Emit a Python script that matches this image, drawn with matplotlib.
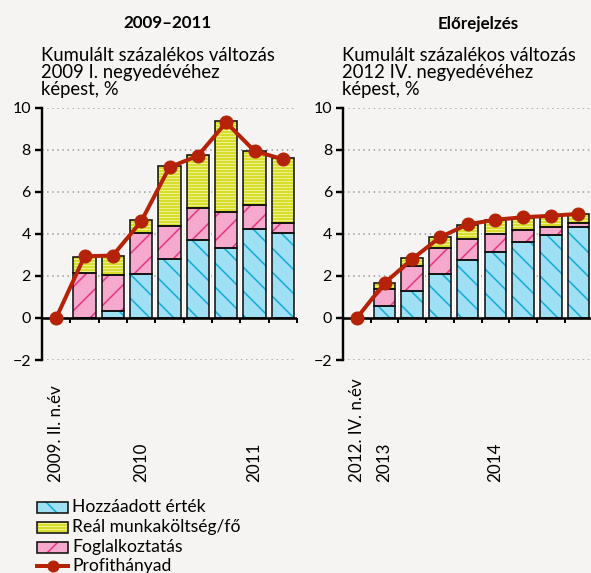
import matplotlib
matplotlib.use("Agg")
import matplotlib.pyplot as plt
import matplotlib.transforms as mtransforms
from matplotlib.patches import Rectangle
from matplotlib.lines import Line2D
import numpy as np

plt.rcParams['font.family'] = ['Lato', 'DejaVu Sans']
plt.rcParams['hatch.linewidth'] = 1.6

# ---------------- data ----------------
# Left panel: 2009-2011, 2009 Q2 .. 2011 Q2
left_hozzaadott = [0.0, 0.0, 0.35, 2.10, 2.80, 3.72, 3.35, 4.22, 4.03]
left_foglalkoztatas = [0.0, 2.15, 1.69, 1.93, 1.58, 1.50, 1.71, 1.13, 0.48]
left_realmunka = [0.0, 0.75, 0.92, 0.64, 2.84, 2.52, 4.31, 2.58, 3.08]
left_profit = [0.0, 2.93, 2.97, 4.59, 7.17, 7.71, 9.30, 7.94, 7.55]
left_tick_pos = [0, 3, 7]
left_tick_labels = ["2009. II. n.év", "2010", "2011"]

# Right panel: forecast, 2012 Q4 .. 2014 Q4
right_hozzaadott = [0.0, 0.55, 1.27, 2.10, 2.74, 3.16, 3.59, 3.96, 4.32]
right_foglalkoztatas = [0.0, 0.83, 1.18, 1.21, 1.01, 0.84, 0.60, 0.36, 0.19]
right_realmunka = [0.0, 0.28, 0.40, 0.52, 0.66, 0.64, 0.56, 0.54, 0.44]
right_profit = [0.0, 1.66, 2.80, 3.84, 4.45, 4.67, 4.79, 4.86, 4.95]
right_tick_pos = [0, 1, 5]
right_tick_labels = ["2012. IV. n.év", "2013", "2014"]

panel_titles = ["2009–2011", "Előrejelzés"]
panel_subtitles = [["Kumulált százalékos változás", "2009 I. negyedévéhez", "képest, %"],
                   ["Kumulált százalékos változás", "2012 IV. negyedévéhez", "képest, %"]]
y_ticks = [-2, 0, 2, 4, 6, 8, 10]
legend_labels = ["Hozzáadott érték", "Reál munkaköltség/fő", "Foglalkoztatás", "Profithányad"]

# ---------------- style ----------------
BG = "#f5f4f2"
BLUE, BLUE_H = "#9fe0f4", "#1aaad9"
YEL, YEL_H = "#cdd600", "#eef08c"
PINK, PINK_H = "#f5a9cc", "#e63a84"
RED = "#b52205"
HATCH_B, HATCH_Y, HATCH_P = "\\", "----", "/"

DPI = 72
W, H = 591, 573
fig = plt.figure(figsize=(W / DPI, H / DPI), dpi=DPI, facecolor=BG)

def fy(py):
    return 1 - py / H

def px_axes(x0, x1, ytop, ybot):
    return fig.add_axes([x0 / W, 1 - ybot / H, (x1 - x0) / W, (ybot - ytop) / H])

axL = px_axes(42, 297, 107.7, 360)
axR = px_axes(343, 592.3, 107.7, 360)

def draw_panel(ax, hz, fg, rm, pr, tpos, tlabels, title, subtitle, title_x, sub_x):
    ax.set_facecolor(BG)
    n = len(hz)
    x = np.arange(n)
    hz = np.array(hz); fg = np.array(fg); rm = np.array(rm)
    total = hz + fg + rm
    bx = x[1:]
    width = 0.78
    ax.bar(bx, total[1:], width=0.94, color="white", linewidth=0, zorder=1.5)
    segs = [(hz, np.zeros(n), BLUE, BLUE_H, HATCH_B),
            (fg, hz, PINK, PINK_H, HATCH_P),
            (rm, hz + fg, YEL, YEL_H, HATCH_Y)]
    for vals, bottom, fc, hc, hatch in segs:
        ax.bar(bx, vals[1:], bottom=bottom[1:], width=width, color=fc,
               edgecolor="none", linewidth=0, zorder=2)
        ax.bar(bx, vals[1:], bottom=bottom[1:], width=width, color="none",
               edgecolor=hc, hatch=hatch, linewidth=0, zorder=2.1)
        ax.bar(bx, vals[1:], bottom=bottom[1:], width=width, color="none",
               edgecolor="#111111", linewidth=1.6, zorder=2.2)
    ax.plot(x, pr, color=RED, lw=4, marker="o", markersize=13, zorder=5,
            clip_on=False)
    ax.set_xlim(-0.5, n - 0.5)
    ax.set_ylim(-2, 10)
    ax.set_yticks(y_ticks)
    ax.set_yticklabels([("−" + str(-v)) if v < 0 else str(v) for v in y_ticks],
                       fontsize=16)
    for v in y_ticks:
        if v != 0:
            ax.axhline(v, color="#9a9a9a", lw=1.5, ls=(0, (1, 2.4)), zorder=1)
    ax.axhline(0, color="black", lw=2.6, zorder=4)
    for b in np.arange(0.5, n, 1.0):
        ax.plot([b, b], [0, -0.26], color="black", lw=2, zorder=4,
                clip_on=False, solid_capstyle="butt")
    for s in ["top", "right", "bottom"]:
        ax.spines[s].set_visible(False)
    ax.spines["left"].set_linewidth(2.4)
    ax.tick_params(axis="y", length=7, width=2.4, pad=4, colors="black")
    ax.set_xticks([])
    trans = mtransforms.blended_transform_factory(ax.transData, fig.transFigure)
    for p, lab in zip(tpos, tlabels):
        ax.text(p, fy(482), lab, transform=trans, rotation=90,
                ha="center", va="bottom", fontsize=17)
    fig.text(title_x / W, fy(28.5), title, ha="center", va="baseline",
             fontsize=17, fontweight="bold")
    for i, line in enumerate(subtitle):
        fig.text(sub_x / W, fy(60.7 + 17.2 * i), line, ha="left", va="baseline",
                 fontsize=18.5)

draw_panel(axL, left_hozzaadott, left_foglalkoztatas, left_realmunka, left_profit,
           left_tick_pos, left_tick_labels, panel_titles[0], panel_subtitles[0], 168, 41)
draw_panel(axR, right_hozzaadott, right_foglalkoztatas, right_realmunka, right_profit,
           right_tick_pos, right_tick_labels, panel_titles[1], panel_subtitles[1], 478, 342)

# ---------------- legend (manual) ----------------
leg_rows = [507, 527, 547, 566]
leg_fill = [(BLUE, BLUE_H, HATCH_B), (YEL, YEL_H, HATCH_Y), (PINK, PINK_H, HATCH_P)]
x0, x1 = 37, 68
for (fc, hc, hatch), yc in zip(leg_fill, leg_rows[:3]):
    xy = (x0 / W, fy(yc + 5.5))
    wh = ((x1 - x0) / W, 11 / H)
    fig.add_artist(Rectangle(xy, *wh, transform=fig.transFigure, facecolor=fc,
                             edgecolor="none", lw=0))
    fig.add_artist(Rectangle(xy, *wh, transform=fig.transFigure, facecolor="none",
                             edgecolor=hc, hatch=hatch, lw=0))
    fig.add_artist(Rectangle(xy, *wh, transform=fig.transFigure, facecolor="none",
                             edgecolor="#111111", lw=1.6))
fig.add_artist(Line2D([x0 / W, x1 / W], [fy(leg_rows[3]), fy(leg_rows[3])],
                      transform=fig.transFigure, color=RED, lw=4))
fig.add_artist(Line2D([(x0 + x1) / 2 / W], [fy(leg_rows[3])], transform=fig.transFigure,
                      color=RED, marker="o", markersize=11, lw=0))
for lab, yc in zip(legend_labels, leg_rows):
    fig.text(72 / W, fy(yc), lab, ha="left", va="center", fontsize=17.5)

fig.savefig("out.png", dpi=DPI, facecolor=BG)
